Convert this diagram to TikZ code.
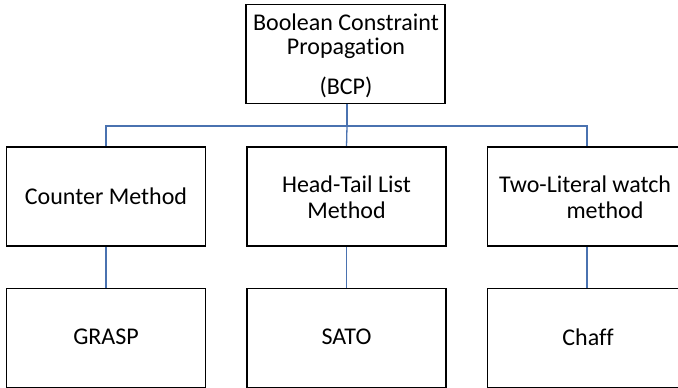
\documentclass[tikz,border=0pt]{standalone}
\usepackage{fontspec}
\setmainfont[Ligatures=NoCommon]{Carlito}
\definecolor{linkblue}{HTML}{4A72B0}
\begin{document}
\begin{tikzpicture}[x=1pt,y=1pt,
  box/.style={draw=black, line width=1.3pt, fill=white, minimum width=199pt, minimum height=99pt, inner sep=0pt, outer sep=0pt},
  lbl/.style={font=\fontsize{24}{26}\selectfont, align=center, inner sep=0pt},
  link/.style={draw=linkblue, line width=1.3pt}]
\useasboundingbox (0,0) rectangle (678,-388);
\clip (0,0) rectangle (678,-388);
\node[box] (top) at (345.5,-54) {};
\node[box] (m1) at (106,-196.5) {};
\node[box] (m2) at (346.5,-196.5) {};
\node[box] (m3) at (587,-196.5) {};
\node[box] (b1) at (106,-338) {};
\node[box] (b2) at (346.5,-338) {};
\node[box] (b3) at (587,-338) {};
\coordinate (bus) at (347,-126);
\draw[link] (top.south -| bus) -- (bus);
\draw[link] (m1.north) |- (bus) -| (m3.north);
\draw[link] (bus) -- (m2.north);
\draw[link] (m1) -- (b1);
\draw[link] (m2) -- (b2);
\draw[link] (m3) -- (b3);
\node[box] at (m1) {};
\node[box] at (m2) {};
\node[box] at (m3) {};
\node[box] at (b1) {};
\node[box] at (b2) {};
\node[box] at (b3) {};
\node[lbl] (t1) at (346,-22) {Boolean Constraint};
\node[lbl] (t2) at (346,-48) {Propagation};
\node[lbl] (t3) at (346,-87) {(BCP)};
\node[lbl] (l1) at (106,-196) {Counter Method};
\node[lbl] (l2) at (346.5,-197) {Head-Tail List\\Method};
\node[lbl, anchor=west] (l3a) at (499,-184) {Two-Literal watch};
\node[lbl] (l3b) at (605,-210) {method};
\node[lbl] (g1) at (106,-337) {GRASP};
\node[lbl] (g2) at (346.5,-337) {SATO};
\node[lbl] (g3) at (588,-337) {Chaff};
\end{tikzpicture}
\end{document}
